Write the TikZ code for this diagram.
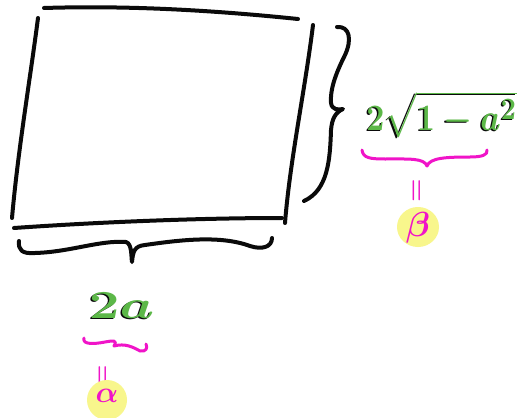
\documentclass[tikz,border=0pt]{standalone}
\usepackage{amsmath}
\definecolor{pen}{RGB}{10,10,10}
\definecolor{grn}{RGB}{92,184,72}
\definecolor{mag}{RGB}{240,20,200}
\definecolor{hl}{RGB}{248,246,140}
\begin{document}
\begin{tikzpicture}[x=1pt,y=-1pt,
  ink/.style={line width=4pt,line cap=round,line join=round,color=pen},
  mg/.style={line width=3pt,line cap=round,line join=round,color=mag},
  gtext/.style={text=grn,inner sep=0pt,font=\Huge\boldmath},
  gshadow/.style={text=pen,inner sep=0pt,font=\Huge\boldmath},
  mtext/.style={text=mag,inner sep=0pt}]
\useasboundingbox (0,0) rectangle (526,417);
\fill[white] (0,0) rectangle (526,417);
% rectangle
\draw[ink] (44,8) .. controls (140,5) and (230,12) .. (298,19);
\draw[ink] (38,18) .. controls (30,80) and (18,150) .. (12,218);
\draw[ink] (14,228) .. controls (100,222) and (200,218) .. (282,218);
\draw[ink] (313,25) .. controls (305,90) and (290,160) .. (285,223);
% right brace
\draw[ink] (337,27) .. controls (350,26) and (352,40) .. (345,55)
  .. controls (335,75) and (330,90) .. (331,103)
  .. controls (332,110) and (338,110) .. (343,109)
  .. controls (336,112) and (332,118) .. (331,130)
  .. controls (330,160) and (328,190) .. (304,201);
% bottom brace
\draw[ink] (19,241) .. controls (18,250) and (22,254) .. (35,253)
  .. controls (70,252) and (100,240) .. (126,242)
  .. controls (132,244) and (131,255) .. (132,262)
  .. controls (133,252) and (134,246) .. (145,245)
  .. controls (180,240) and (220,235) .. (250,246)
  .. controls (262,250) and (272,247) .. (272,238);
% right label
\node[gshadow,anchor=base west,xscale=1.3,yscale=1.5] (hs) at (364.5,131) {$2\sqrt{1-a^2}$};
\node[gtext,anchor=base west,xscale=1.3,yscale=1.5] (h) at (366,130) {$2\sqrt{1-a^2}$};
\draw[mg] (362,150) .. controls (363,158) and (370,159) .. (385,159)
  .. controls (410,159) and (424,158) .. (427,166)
  .. controls (430,158) and (445,157) .. (470,157)
  .. controls (482,157) and (488,155) .. (487,150);
\node[mtext,rotate=90,font=\huge\boldmath,scale=1.3] (eqb) at (418,191) {$=$};
\fill[hl] (418,227) ellipse [x radius=21, y radius=20];
\node[mtext,font=\Huge\boldmath,scale=1.4] (beta) at (418,228) {$\beta$};
% bottom label
\node[gshadow,anchor=base west,xscale=2.2,yscale=1.6] (ws) at (87,319) {$2a$};
\node[gtext,anchor=base west,xscale=2.2,yscale=1.6] (w) at (88.5,318) {$2a$};
\draw[mg] (84,338) .. controls (82,345) and (95,344) .. (105,342)
  .. controls (112,341) and (118,339) .. (114,346)
  .. controls (125,343) and (133,347) .. (140,351)
  .. controls (146,352) and (148,348) .. (146,344);
\node[mtext,rotate=90,font=\huge\boldmath,scale=1.3] (eqa) at (104,377) {$=$};
\fill[hl] (107,400) circle [radius=20];
\node[mtext,font=\Huge\boldmath,scale=1.2] (alpha) at (107,396) {$\alpha$};
\end{tikzpicture}
\end{document}
